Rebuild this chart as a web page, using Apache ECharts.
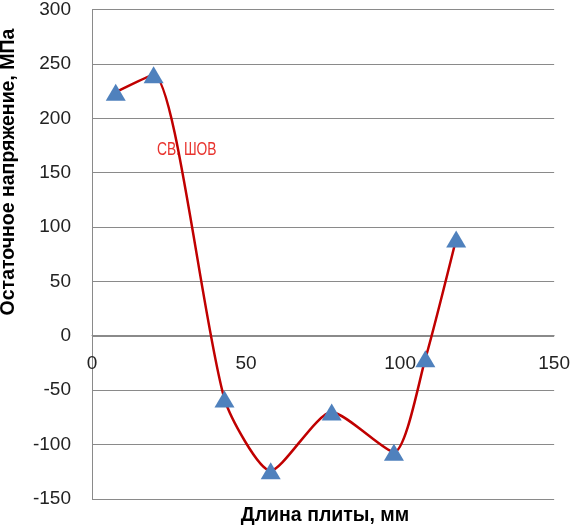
<!DOCTYPE html>
<html>
<head>
<meta charset="utf-8">
<script src="https://cdn.jsdelivr.net/npm/echarts@6/dist/echarts.min.js"></script>
<style>
  html, body { margin: 0; padding: 0; background: #fff; }
  #chart { width: 573px; height: 527px; }
</style>
</head>
<body>
<div id="chart"></div>
<script>
// длина плиты, мм
const lengthMm = [7.7, 20, 43, 58, 77.8, 98, 108.2, 118.2];
// остаточное напряжение, МПа
const stressMpa = [224, 240, -58, -124, -70, -107, -21, 89];

const xTicks = { min: 0, max: 150, step: 50 };
const yTicks = { min: -150, max: 300, step: 50 };

const yTitle = 'Остаточное напряжение, МПа';
const xTitle = 'Длина плиты, мм';
const seamLabel = 'СВ. ШОВ';

const labelFont = { fontFamily: 'Liberation Sans', fontSize: 19, color: '#222' };

let chart = echarts.init(document.getElementById('chart'));
let options = {
  animation: false,
  grid: { left: 92, right: 17, top: 8, bottom: 28 },
  xAxis: {
    type: 'value',
    min: xTicks.min,
    max: xTicks.max,
    interval: xTicks.step,
    position: 'bottom',
    offset: -164,   // ось проходит через y = 0
    axisLine: { onZero: false, lineStyle: { color: '#8a8a8a', width: 1 } },
    axisTick: { show: false },
    splitLine: { show: false },
    axisLabel: Object.assign({ margin: 19 }, labelFont)
  },
  yAxis: {
    type: 'value',
    min: yTicks.min,
    max: yTicks.max,
    interval: yTicks.step,
    axisLine: { show: true, onZero: false, lineStyle: { color: '#8a8a8a', width: 1 } },
    axisTick: { show: false },
    splitLine: { show: true, lineStyle: { color: '#8a8a8a', width: 1 } },
    axisLabel: Object.assign({ margin: 21 }, labelFont)
  },
  graphic: [
    {
      type: 'text',
      x: 9, y: 172,
      z: 0,
      rotation: Math.PI / 2,
      style: {
        text: yTitle,
        font: 'bold 19.5px "Liberation Sans"',
        fill: '#000',
        align: 'center',
        verticalAlign: 'middle'
      }
    },
    {
      type: 'text',
      x: 325, y: 516,
      z: 0,
      style: {
        text: xTitle,
        font: 'bold 19.5px "Liberation Sans"',
        fill: '#000',
        align: 'center',
        verticalAlign: 'middle'
      }
    },
    {
      type: 'text',
      x: 157, y: 150,
      z: 0,
      scaleX: 0.79,
      style: {
        text: seamLabel,
        font: '17.5px "Liberation Sans"',
        fill: '#e8332e',
        align: 'left',
        verticalAlign: 'middle'
      }
    }
  ],
  series: [
    {
      type: 'line',
      data: lengthMm.map((x, i) => [x, stressMpa[i]]),
      smooth: 0.22,
      symbol: 'triangle',
      symbolSize: [20, 17],
      itemStyle: { color: '#4f81bd' },
      lineStyle: { color: '#c00000', width: 2.5 },
      z: 3
    }
  ]
};
chart.setOption(options);
</script>
</body>
</html>
